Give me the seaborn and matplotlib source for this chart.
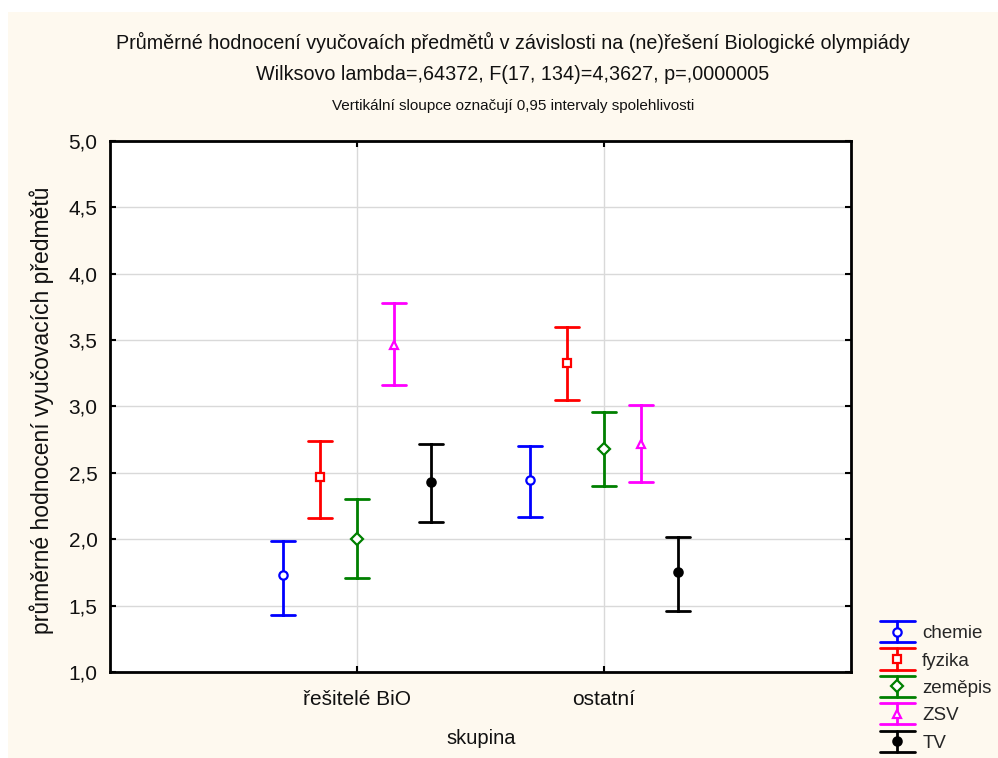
import numpy as np
import pandas as pd
import matplotlib
matplotlib.use("Agg")
import matplotlib.pyplot as plt
from matplotlib.legend_handler import HandlerBase
from matplotlib.lines import Line2D
from matplotlib.patches import Rectangle
import seaborn as sns

# ---------------- data ----------------
groups = ["řešitelé BiO", "ostatní"]
subjects = ["chemie", "fyzika", "zeměpis", "ZSV", "TV"]
means_resitele = [1.73, 2.47, 2.00, 3.46, 2.43]
lower_resitele = [1.43, 2.16, 1.71, 3.16, 2.13]
upper_resitele = [1.99, 2.74, 2.30, 3.78, 2.72]
means_ostatni = [2.45, 3.33, 2.68, 2.72, 1.75]
lower_ostatni = [2.17, 3.05, 2.40, 2.43, 1.46]
upper_ostatni = [2.70, 3.60, 2.96, 3.01, 2.02]
y_ticks = [1.0, 1.5, 2.0, 2.5, 3.0, 3.5, 4.0, 4.5, 5.0]
y_tick_labels = ["1,0", "1,5", "2,0", "2,5", "3,0", "3,5", "4,0", "4,5", "5,0"]

colors = ["#0000FF", "#FF0000", "#008000", "#FF00FF", "#000000"]
markers = ["o", "s", "D", "^", "o"]
filled = [False, False, False, False, True]

title1 = "Průměrné hodnocení vyučovaích předmětů v závislosti na (ne)řešení Biologické olympiády"
title2 = "Wilksovo lambda=,64372, F(17, 134)=4,3627, p=,0000005"
title3 = "Vertikální sloupce označují 0,95 intervaly spolehlivosti"
ylabel = "průměrné hodnocení vyučovacích předmětů"
xlabel = "skupina"

# long table: lower / mean / upper rows per cell; median = mean, min/max = CI
rows = []
for g, (m, lo, hi) in zip(groups, [(means_resitele, lower_resitele, upper_resitele),
                                     (means_ostatni, lower_ostatni, upper_ostatni)]):
    for s, mv, lv, hv in zip(subjects, m, lo, hi):
        for v in (lv, mv, hv):
            rows.append({"skupina": g, "predmet": s, "hodnota": v})
df = pd.DataFrame(rows)

# ---------------- figure ----------------
sns.set_theme(style="white")
plt.rcParams["font.family"] = ["Liberation Sans", "DejaVu Sans"]

W, H = 998, 758
TXT = "#111111"
fig = plt.figure(figsize=(W / 100, H / 100), dpi=100, facecolor="white")
fig.patches.append(Rectangle((8 / W, 0), 1 - 8 / W, 1 - 12 / H, transform=fig.transFigure,
                             facecolor="#FEF9EF", edgecolor="none", zorder=-10))

ax = fig.add_axes([110 / W, 1 - 672 / H, (851 - 110) / W, (672 - 141) / H])
ax.set_facecolor("white")

sns.pointplot(data=df, x="skupina", y="hodnota", hue="predmet",
              order=groups, hue_order=subjects, palette=colors,
              estimator="median", errorbar=lambda v: (v.min(), v.max()),
              dodge=0.6, linestyle="none", markers=markers, markersize=6,
              capsize=0.1, err_kws={"linewidth": 2}, legend=False, ax=ax)

hex_colors = [matplotlib.colors.to_hex(c).lower() for c in colors]
for ln in ax.lines:
    mk = ln.get_marker()
    if mk not in (None, "None", "", " "):
        col = ln.get_color()
        idx = hex_colors.index(matplotlib.colors.to_hex(col).lower())
        ln.set_markerfacecolor(col if filled[idx] else "white")
        ln.set_markeredgewidth(1.6)
        ln.set_zorder(5)

ax.set_xlim(-1, 2)
ax.set_ylim(1.0, 5.0)
ax.set_yticks(y_ticks)
ax.set_yticklabels(y_tick_labels)
ax.set_xticks([0, 1])
ax.set_xticklabels(groups)
ax.grid(True, color="#D9D9D9", linewidth=1)
ax.set_axisbelow(True)
ax.set_xlabel("")
ax.set_ylabel("")
for sp in ax.spines.values():
    sp.set_visible(True)
    sp.set_color("black")
    sp.set_linewidth(2)
ax.tick_params(axis="both", which="both", direction="in", length=4, width=1.5,
               colors="black", labelsize=15, top=True, right=True,
               bottom=True, left=True, labelcolor=TXT)
ax.tick_params(axis="y", pad=9)
ax.tick_params(axis="x", pad=13)

fig.text(513 / W, 1 - 42 / H, title1, ha="center", va="center", fontsize=14.2, color=TXT)
fig.text(513 / W, 1 - 75 / H, title2, ha="center", va="center", fontsize=14.2, color=TXT)
fig.text(513 / W, 1 - 106 / H, title3, ha="center", va="center", fontsize=11, color=TXT)
fig.text(42 / W, 1 - 410 / H, ylabel, ha="center", va="center", rotation=90, fontsize=16.5, color=TXT)
fig.text(481 / W, 1 - 738 / H, xlabel, ha="center", va="center", fontsize=14.5, color=TXT)


# ---------------- legend ----------------
class ErrHandler(HandlerBase):
    def create_artists(self, legend, orig_handle, xdescent, ydescent, width, height, fontsize, trans):
        col = orig_handle.get_color()
        cx = -xdescent + width / 2
        cy = -ydescent + height / 2
        h = 7.6
        x0, x1 = -xdescent, -xdescent + width
        arts = [
            Line2D([cx, cx], [cy - h, cy + h], color=col, lw=2),
            Line2D([x0, x1], [cy + h, cy + h], color=col, lw=2),
            Line2D([x0, x1], [cy - h, cy - h], color=col, lw=2),
            Line2D([cx], [cy], marker=orig_handle.get_marker(), markersize=6,
                   markeredgecolor=col, markeredgewidth=1.6,
                   markerfacecolor=orig_handle.get_markerfacecolor(), linestyle="none"),
        ]
        for a in arts:
            a.set_transform(trans)
        return arts


handles = [Line2D([], [], color=c, marker=m, markerfacecolor=(c if f else "white"))
           for c, m, f in zip(colors, markers, filled)]
fig.legend(handles, subjects, handler_map={Line2D: ErrHandler()},
           loc="upper left", bbox_to_anchor=(880 / W, 1 - 625 / H),
           frameon=False, fontsize=13.5, borderpad=0, borderaxespad=0,
           handlelength=1.85, handletextpad=0.4, labelspacing=0.55)

fig.savefig("out.png", dpi=100, facecolor=fig.get_facecolor())
